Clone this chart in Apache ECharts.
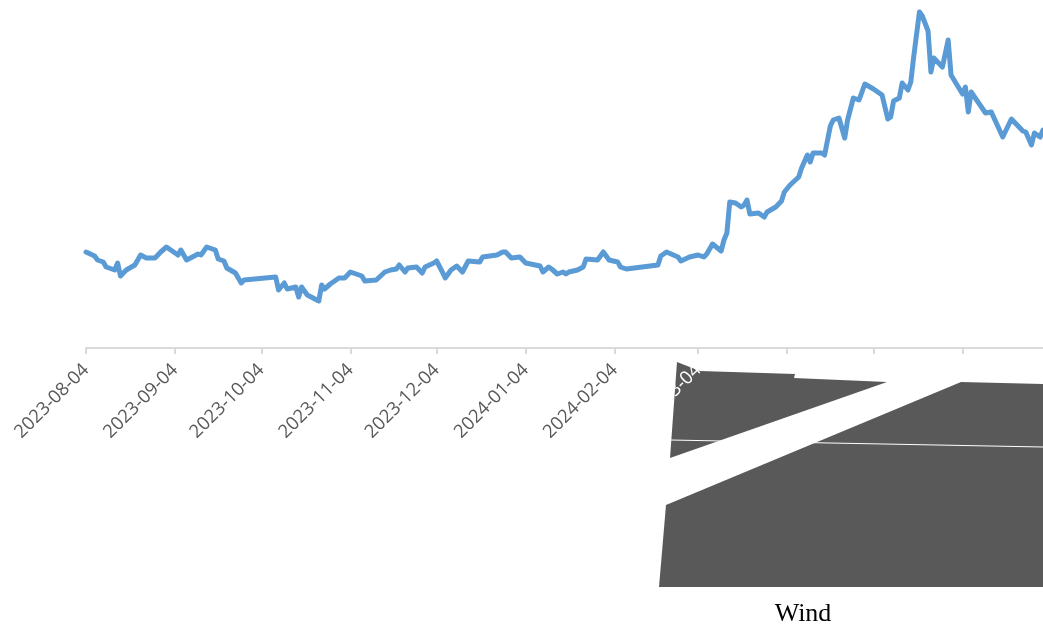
<!DOCTYPE html>
<html>
<head>
<meta charset="utf-8">
<script src="https://cdn.jsdelivr.net/npm/echarts@6/dist/echarts.min.js"></script>
<style>html,body{margin:0;padding:0;background:#fff;}#c{width:1043px;height:626px;}</style>
</head>
<body>
<div id="c"></div>
<script>
// Axis range (calendar days) and label ticks
const startDate = '2023-08-04';
const endDate = '2024-07-02';
const lastLabelDate = '2024-03-04';

const dates = [
'2023-08-04','2023-08-07','2023-08-08','2023-08-10','2023-08-11','2023-08-14','2023-08-15','2023-08-16','2023-08-18','2023-08-21',
'2023-08-22','2023-08-23','2023-08-25','2023-08-28','2023-08-30','2023-09-01','2023-09-03','2023-09-05','2023-09-06','2023-09-08',
'2023-09-12','2023-09-13','2023-09-15','2023-09-18','2023-09-19','2023-09-21','2023-09-22','2023-09-25','2023-09-26','2023-09-27',
'2023-09-28','2023-10-09','2023-10-10','2023-10-12','2023-10-13','2023-10-16','2023-10-17','2023-10-18','2023-10-20','2023-10-24',
'2023-10-25','2023-10-26','2023-10-28','2023-10-31','2023-11-02','2023-11-04','2023-11-06','2023-11-08','2023-11-09','2023-11-13',
'2023-11-16','2023-11-18','2023-11-20','2023-11-21','2023-11-23','2023-11-24','2023-11-27','2023-11-29','2023-11-30','2023-12-03',
'2023-12-04','2023-12-06','2023-12-07','2023-12-09','2023-12-11','2023-12-13','2023-12-15','2023-12-19','2023-12-20','2023-12-25',
'2023-12-27','2023-12-28','2023-12-30','2024-01-02','2024-01-04','2024-01-09','2024-01-10','2024-01-12','2024-01-13','2024-01-15',
'2024-01-17','2024-01-18','2024-01-19','2024-01-22','2024-01-24','2024-01-25','2024-01-29','2024-01-31','2024-02-02','2024-02-05',
'2024-02-06','2024-02-08','2024-02-19','2024-02-20','2024-02-22','2024-02-26','2024-02-27','2024-03-01','2024-03-04','2024-03-06',
'2024-03-07','2024-03-09','2024-03-12','2024-03-13','2024-03-14','2024-03-15','2024-03-17','2024-03-19','2024-03-20','2024-03-21',
'2024-03-22','2024-03-25','2024-03-27','2024-03-28','2024-03-31','2024-04-02','2024-04-03','2024-04-05','2024-04-08','2024-04-09',
'2024-04-11','2024-04-12','2024-04-13','2024-04-16','2024-04-17','2024-04-19','2024-04-20','2024-04-22','2024-04-24','2024-04-25',
'2024-04-27','2024-04-29','2024-05-01','2024-05-04','2024-05-07','2024-05-09','2024-05-10','2024-05-11','2024-05-13','2024-05-14',
'2024-05-16','2024-05-17','2024-05-18','2024-05-20','2024-05-21','2024-05-23','2024-05-24','2024-05-25','2024-05-28','2024-05-30',
'2024-05-31','2024-06-04','2024-06-05','2024-06-06','2024-06-07','2024-06-12','2024-06-14','2024-06-18','2024-06-21','2024-06-25',
'2024-06-26','2024-06-28','2024-06-29','2024-07-01','2024-07-02'
];
const values = [
96,92,88,86,81,78,85,72,78,83,
88,93,90,90,96,101,97,93,98,88,
94,93,101,98,89,87,80,75,70,65,
68,71,58,65,59,61,51,61,53,47,
63,59,64,70,70,76,74,72,67,68,
76,78,79,83,76,80,81,75,81,85,
87,76,70,78,82,76,87,86,91,93,
96,96,90,91,85,82,76,81,79,74,
76,74,76,78,81,89,88,96,88,86,
81,79,83,92,96,91,87,91,93,91,
94,104,97,108,115,146,145,141,143,148,
134,135,131,136,141,147,156,163,171,180,
193,186,195,195,193,222,228,230,210,228,
250,248,264,259,253,229,231,247,250,265,
258,266,291,336,332,317,276,290,281,308,
273,254,261,236,256,235,236,211,229,217,
216,203,215,211,218
];

// Build the calendar-day category axis
function fmt(d){
  const m = d.getUTCMonth()+1, dd = d.getUTCDate();
  return d.getUTCFullYear()+'-'+(m<10?'0':'')+m+'-'+(dd<10?'0':'')+dd;
}
const categories = [];
for (let t = Date.parse(startDate+'T00:00:00Z'); t <= Date.parse(endDate+'T00:00:00Z'); t += 86400000) {
  categories.push(fmt(new Date(t)));
}
const lookup = {};
dates.forEach((d,i)=>{ lookup[d] = values[i]; });
const seriesData = categories.map(c => (c in lookup) ? lookup[c] : null);

const chart = echarts.init(document.getElementById('c'), null, {renderer:'canvas'});
chart.setOption({
  animation: false,
  backgroundColor: '#ffffff',
  grid: { left: 86, right: 0, top: 0, height: 348, containLabel: false },
  xAxis: {
    type: 'category',
    data: categories,
    boundaryGap: false,
    axisLine: { lineStyle: { color: '#d9d9d9', width: 2 } },
    axisTick: {
      interval: (i, v) => v.slice(8) === '04',
      length: 6,
      lineStyle: { color: '#d9d9d9', width: 2 }
    },
    axisLabel: {
      interval: (i, v) => v.slice(8) === '04' && v <= lastLabelDate,
      rotate: 45,
      margin: 19,
      fontFamily: 'Open Sans',
      fontSize: 18.5,
      color: (v) => v === lastLabelDate ? '#ffffff' : '#595959'
    },
    splitLine: { show: false }
  },
  yAxis: { type: 'value', min: 0, max: 348, show: false, splitLine: { show: false } },
  series: [{
    type: 'line',
    data: seriesData,
    connectNulls: true,
    showSymbol: false,
    symbol: 'none',
    lineStyle: { color: '#5B9BD5', width: 5, cap: 'round', join: 'round' },
    z: 3
  }],
  graphic: [
    { type: 'polygon', z: -2, shape: { points: [[677,362],[700,371],[795,374],[794,378],[887,382],[670,458]] }, style: { fill: '#595959' } },
    { type: 'polygon', z: -2, shape: { points: [[666,505],[961,382],[1043,384],[1043,587],[659,587]] }, style: { fill: '#595959' } },
    { type: 'line', z: -1, shape: { x1: 670, y1: 440, x2: 1043, y2: 447 }, style: { stroke: '#ffffff', lineWidth: 1 } },
    { type: 'text', z: 5, x: 803, y: 614, style: { text: 'Wind', fill: '#000000', font: '26px "Liberation Serif"', align: 'center', verticalAlign: 'middle' } }
  ]
});
</script>
</body>
</html>
